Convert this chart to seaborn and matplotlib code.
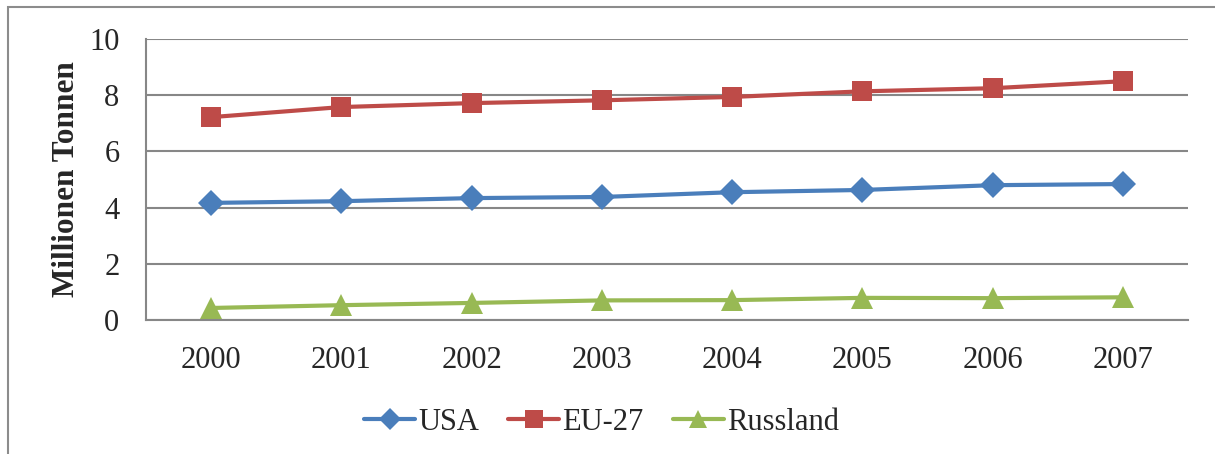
import numpy as np
import pandas as pd
import matplotlib.pyplot as plt
import seaborn as sns
from matplotlib.patches import Rectangle

# data (Millionen Tonnen)
years = ['2000', '2001', '2002', '2003', '2004', '2005', '2006', '2007']
usa = [4.17, 4.23, 4.34, 4.38, 4.55, 4.63, 4.80, 4.84]
eu27 = [7.22, 7.58, 7.72, 7.82, 7.94, 8.14, 8.25, 8.50]
russland = [0.43, 0.53, 0.61, 0.70, 0.71, 0.79, 0.78, 0.81]
series = ['USA', 'EU-27', 'Russland']

colors = {'USA': '#4A7EBB', 'EU-27': '#BE4B48', 'Russland': '#98B954'}
markers = {'USA': 'D', 'EU-27': 's', 'Russland': '^'}
sizes = {'USA': 13, 'EU-27': 14.5, 'Russland': 16}

df = pd.DataFrame({
    'Jahr': years * 3,
    'pos': list(range(len(years))) * 3,
    'Wert': usa + eu27 + russland,
    'Land': [s for s in series for _ in years],
})

sns.set_style('white')
plt.rcParams['font.family'] = ['Liberation Serif', 'DejaVu Serif']

fig = plt.figure(figsize=(12.15, 4.54), dpi=100)
ax = fig.add_axes([0.120, 0.295, 0.858, 0.619])

sns.lineplot(data=df, x='pos', y='Wert', hue='Land', style='Land',
             palette=colors, markers=markers, dashes=False,
             linewidth=3.0, markeredgewidth=0, ax=ax, legend=False)
for line, s in zip(ax.lines, series):
    line.set_markersize(sizes[s])

grid_c = '#878787'
ax.set_ylim(0, 10)
ax.set_yticks(range(0, 11, 2))
ax.set_xlim(-0.5, len(years) - 0.5)
ax.set_xticks(range(len(years)))
ax.set_xticklabels(years)
ax.set_xticks(np.arange(-0.5, len(years), 1), minor=True)
ax.tick_params(axis='x', which='major', length=0, labelsize=22, pad=19)
ax.tick_params(axis='x', which='minor', length=8, width=1.3, color=grid_c, direction='out')
ax.tick_params(axis='y', length=8, width=1.3, color=grid_c, direction='out', labelsize=22, pad=11)
ax.grid(axis='y', color=grid_c, linewidth=1.5)
ax.set_axisbelow(True)
for side in ['top', 'right']:
    ax.spines[side].set_visible(False)
for side in ['left', 'bottom']:
    ax.spines[side].set_color(grid_c)
    ax.spines[side].set_linewidth(1.5)

ax.set_xlabel('')
ax.set_ylabel('Millionen Tonnen', fontsize=22.5, fontweight='bold', labelpad=6)

# legend at the bottom
handles = [plt.Line2D([], [], color=colors[s], marker=markers[s], markersize=sizes[s] * 0.85,
                      markeredgewidth=0, linewidth=3.0) for s in series]
fig.legend(handles, series, loc='center', bbox_to_anchor=(0.495, 0.070), ncol=3,
           frameon=False, fontsize=22, handlelength=1.67, handletextpad=0.1,
           columnspacing=0.95)

# outer chart border
fig.patches.append(Rectangle((8 / 1215, -0.01), 1.05, 1 - 7 / 454 + 0.01,
                             transform=fig.transFigure, fill=False,
                             edgecolor='#8C8C8C', linewidth=1.5))

fig.savefig('out.png', dpi=100)
